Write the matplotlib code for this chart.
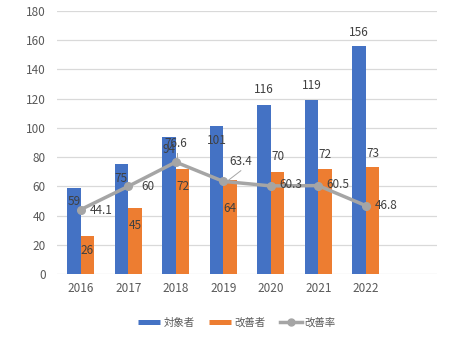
import matplotlib
matplotlib.use("Agg")
import matplotlib.pyplot as plt
from matplotlib.lines import Line2D
import numpy as np

plt.rcParams['font.family'] = ['Noto Sans CJK JP', 'DejaVu Sans']

years = ["2016", "2017", "2018", "2019", "2020", "2021", "2022", ""]
targets = [59, 75, 94, 101, 116, 119, 156]
improved = [26, 45, 72, 64, 70, 72, 73]
rate = [44.1, 60.0, 76.6, 63.4, 60.3, 60.5, 46.8]
rate_labels = ["44.1", "60", "76.6", "63.4", "60.3", "60.5", "46.8"]
series_names = ["対象者", "改善者", "改善率"]

# label placement offsets (layout only)
blue_dy = [-9.5, -9.4, -9.0, -9.3, 10.0, 9.7, 9.6]
orange_dy = [-9.6, -12.0, -12.0, -19.0, 10.3, 10.0, 9.6]
rate_dx = [0.42, 0.42, 0.0, 0.36, 0.42, 0.42, 0.42]
rate_dy = [-0.3, 0.2, 12.4, 13.5, 0.7, 0.5, 0.4]

blue = "#4472C4"
orange = "#ED7D31"
gray = "#A5A5A5"
txt = "#595959"
lbl = "#404040"

fig = plt.figure(figsize=(4.76, 3.52), dpi=100)
ax = fig.add_axes([57/476, 1-274/352, 380/476, 263/352])

x = np.arange(len(targets))
w = 0.285
ax.bar(x - w/2, targets, w, color=blue, zorder=2)
ax.bar(x + w/2, improved, w, color=orange, zorder=2)
ax.plot(x, rate, color=gray, lw=2.5, marker='o', ms=5.5, zorder=3)

fs = 8.5
for i in range(len(targets)):
    ax.text(x[i] - w/2, targets[i] + blue_dy[i], str(targets[i]), ha='center', va='center',
            fontsize=fs, color=lbl, zorder=4)
    ax.text(x[i] + w/2, improved[i] + orange_dy[i], str(improved[i]), ha='center', va='center',
            fontsize=fs, color=lbl, zorder=4)
    ax.text(x[i] + rate_dx[i], rate[i] + rate_dy[i], rate_labels[i], ha='center', va='center',
            fontsize=fs, color=lbl, zorder=4)

# leader lines
ax.plot([2.03, 2.03], [76.6 + 1.5, 76.6 + 6.5], color="#A6A6A6", lw=0.7, zorder=4)
ax.plot([3 + 0.11, 3 + 0.37], [63.4 + 0.8, 63.4 + 7.3], color="#A6A6A6", lw=0.7, zorder=4)

ax.set_xlim(-0.5, 7.5)
ax.set_ylim(0, 180)
ax.set_yticks(np.arange(0, 181, 20))
ax.set_xticks(np.arange(len(years)))
ax.set_xticklabels(years)
ax.grid(axis='y', color="#D9D9D9", lw=0.9, zorder=0)
ax.set_axisbelow(True)
for s in ax.spines.values():
    s.set_visible(False)
ax.tick_params(axis='both', length=0, labelsize=fs, colors=txt, pad=8)
ax.tick_params(axis='x', pad=6)

handles = [Line2D([], [], color=blue, lw=3.6, solid_capstyle='butt'),
           Line2D([], [], color=orange, lw=3.6, solid_capstyle='butt'),
           Line2D([], [], color=gray, lw=2.5, marker='o', ms=5)]
leg = fig.legend(handles, series_names, loc='center', bbox_to_anchor=(0.498, 1-322.5/352),
                 ncol=3, frameon=False, fontsize=7.5, handlelength=2.1, handletextpad=0.3,
                 columnspacing=1.4, labelcolor=txt)

fig.savefig("out.png", dpi=100)
